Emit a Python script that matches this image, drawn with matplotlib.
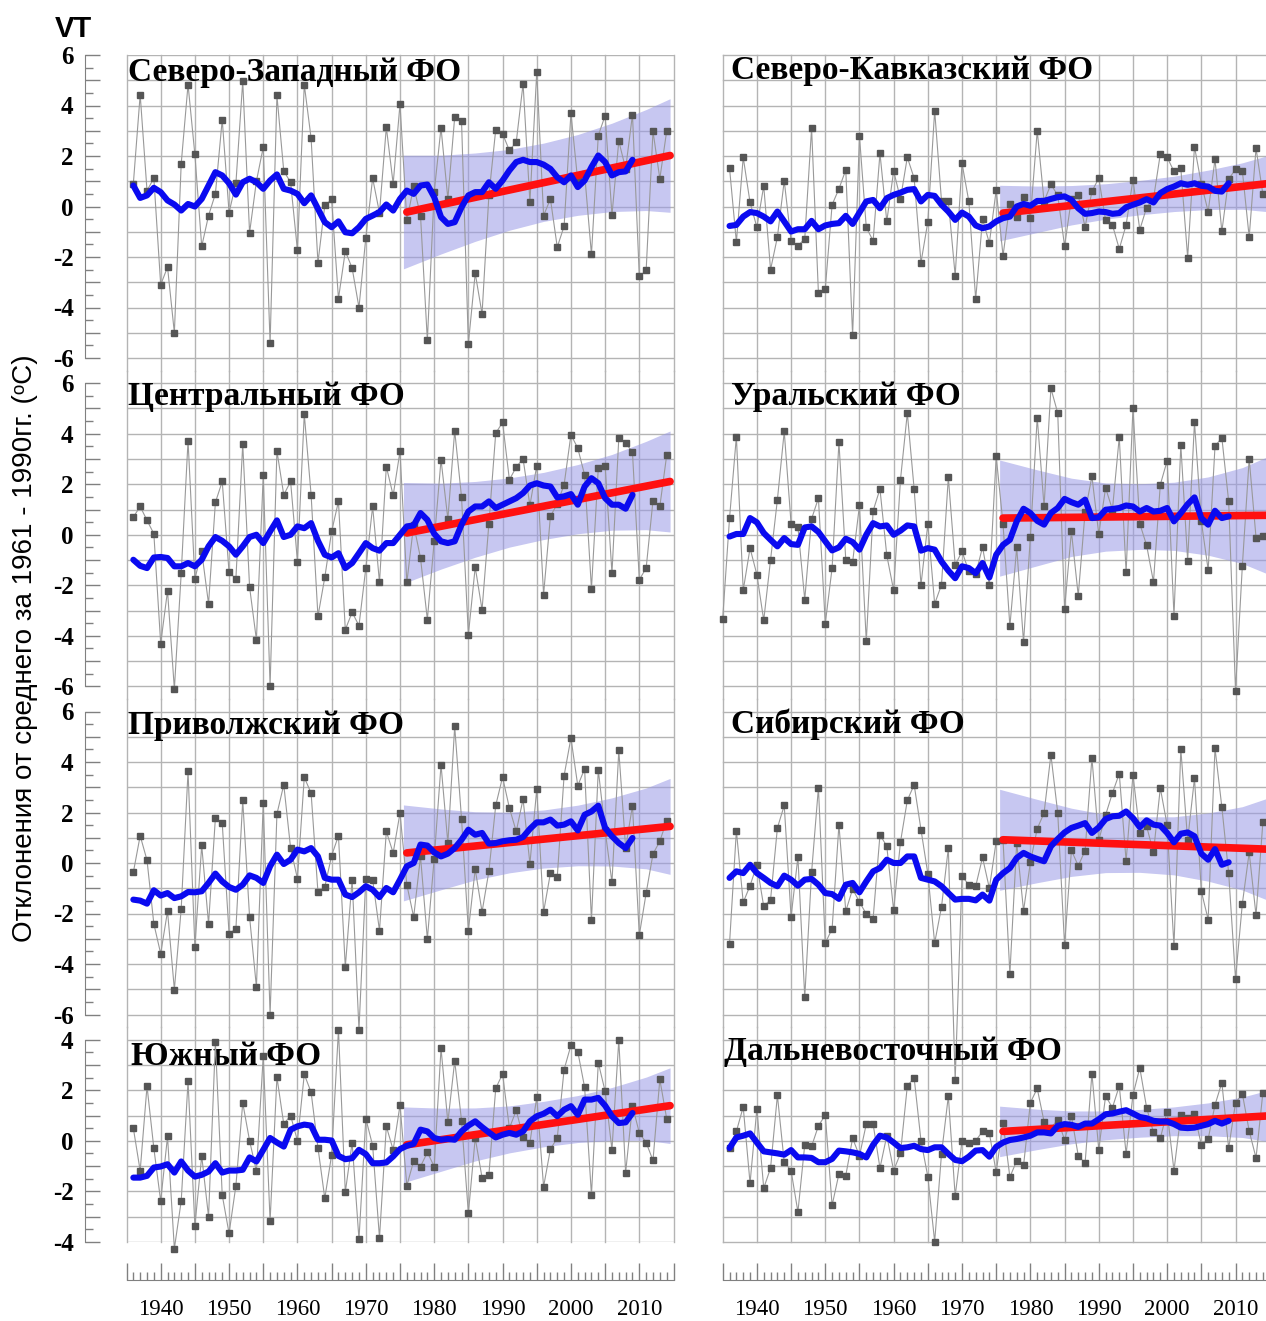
import matplotlib.pyplot as plt
import numpy as np
from matplotlib.ticker import FixedLocator, FuncFormatter

plt.rcParams['axes.unicode_minus'] = False
plt.rcParams['font.family'] = 'Liberation Serif'

# ---- data -----------------------------------------------------------------
years = np.arange(1936, 2015)
ural_years = np.arange(1935, 2015)
smooth_years = np.arange(1936, 2010)
trend_years = [1976, 2014.5]
band_years = [1975.5, 1981, 1986, 1991, 1996, 2001, 2006, 2011, 2014.5]

# Северо-Западный
nw_vals = [0.9, 4.43, 0.63, 1.12, -3.1, -2.4, -5.0, 1.69, 4.83, 2.06,
           -1.58, -0.36, 0.5, 3.44, -0.24, 0.92, 4.96, -1.04, 1.0, 2.35,
           -5.4, 4.4, 1.4, 0.96, -1.74, 4.83, 2.7, -2.23, 0.04, 0.28,
           -3.65, -1.77, -2.44, -4.0, -1.24, 1.12, -0.25, 3.14, 0.9, 4.06,
           -0.55, 0.8, -0.36, -5.3, 0.57, 3.12, 0.3, 3.54, 3.38, -5.44,
           -2.64, -4.25, 0.44, 3.04, 2.88, 2.22, 2.55, 4.86, 0.17, 5.32,
           -0.36, 0.3, -1.61, -0.78, 3.7, 1.0, 1.3, -1.9, 2.81, 3.6,
           -0.33, 2.59, 1.5, 3.64, -2.77, -2.53, 2.98, 1.1, 2.98]
nw_smooth = [0.83, 0.34, 0.44, 0.74, 0.57, 0.24, 0.08, -0.16, 0.1, 0.0,
             0.3, 0.83, 1.36, 1.23, 0.92, 0.47, 0.96, 1.1, 0.96, 0.7,
             1.03, 1.27, 0.7, 0.63, 0.5, 0.13, 0.44, -0.09, -0.62, -0.82,
             -0.59, -1.02, -1.06, -0.82, -0.49, -0.36, -0.22, 0.08, -0.16, 0.3,
             0.63, 0.5, 0.83, 0.87, 0.37, -0.42, -0.69, -0.62, -0.03, 0.44,
             0.57, 0.57, 0.96, 0.7, 1.03, 1.43, 1.76, 1.85, 1.76, 1.76,
             1.66, 1.49, 1.16, 0.96, 1.23, 0.77, 1.03, 1.56, 2.02, 1.76,
             1.23, 1.36, 1.39, 1.85]
nw_trend = [-0.22, 2.02]
nw_hi = [2.03, 2.03, 2.12, 2.26, 2.51, 2.85, 3.3, 3.84, 4.27]
nw_lo = [-2.47, -1.88, -1.38, -0.94, -0.59, -0.35, -0.2, -0.16, -0.23]

# Северо-Кавказский
nk_vals = [1.52, -1.41, 1.95, 0.16, -0.82, 0.82, -2.5, -1.21, 1.02, -1.36,
           -1.56, -1.28, 3.1, -3.43, -3.27, 0.07, 0.7, 1.45, -5.1, 2.8,
           -0.83, -1.36, 2.11, -0.59, 1.41, 0.3, 1.95, 1.12, -2.22, -0.61,
           3.8, 0.22, 0.22, -2.74, 1.71, 0.2, -3.67, -0.5, -1.45, 0.66,
           -1.95, 0.1, -0.4, 0.37, -0.44, 3.0, 0.2, 0.88, 0.44, -1.56,
           0.3, 0.44, -0.82, 0.6, 1.12, -0.54, -0.73, -1.68, -0.73, 1.06,
           -0.92, -0.04, 0.3, 2.08, 1.95, 1.39, 1.52, -2.02, 2.37, 0.9,
           -0.2, 1.87, -0.99, 1.08, 1.48, 1.41, -1.21, 2.31, 0.49]
nk_smooth = [-0.77, -0.73, -0.4, -0.22, -0.26, -0.4, -0.59, -0.2, -0.59, -0.99,
             -0.9, -0.9, -0.57, -0.9, -0.75, -0.69, -0.66, -0.37, -0.69, -0.24,
             0.2, 0.26, -0.07, 0.33, 0.46, 0.55, 0.66, 0.69, 0.2, 0.46,
             0.42, 0.07, -0.2, -0.53, -0.24, -0.4, -0.75, -0.86, -0.79, -0.59,
             -0.46, -0.4, 0.0, 0.1, 0.03, 0.22, 0.22, 0.3, 0.37, 0.4,
             0.26, -0.07, -0.29, -0.26, -0.2, -0.22, -0.29, -0.26, -0.03, 0.07,
             0.16, 0.29, 0.16, 0.53, 0.69, 0.79, 0.92, 0.86, 0.92, 0.82,
             0.79, 0.62, 0.59, 0.92]
nk_trend = [-0.26, 0.9]
nk_hi = [0.84, 0.81, 0.83, 0.9, 1.03, 1.2, 1.44, 1.73, 2.0]
nk_lo = [-1.36, -1.03, -0.73, -0.5, -0.33, -0.2, -0.12, -0.11, -0.2]

# Центральный
c_vals = [0.7, 1.12, 0.57, 0.04, -4.31, -2.22, -6.11, -1.53, 3.73, -1.75,
          -0.66, -2.74, 1.28, 2.11, -1.49, -1.74, 3.59, -2.07, -4.16, 2.35,
          -5.98, 3.32, 1.58, 2.11, -1.06, 4.78, 1.58, -3.23, -1.69, 0.13,
          1.32, -3.76, -3.07, -3.6, -1.32, 1.12, -1.89, 2.7, 1.56, 3.3,
          -1.89, 0.4, -0.92, -3.36, -0.26, 2.97, 0.62, 4.12, 1.49, -3.96,
          -1.28, -2.97, 0.44, 4.02, 4.45, 2.18, 2.68, 3.01, 1.16, 2.74,
          -2.37, 0.73, 1.23, 1.98, 3.96, 3.43, 2.37, -2.14, 2.64, 2.74,
          -1.52, 3.83, 3.65, 3.26, -1.78, -1.32, 1.35, 1.12, 3.14]
c_smooth = [-0.99, -1.23, -1.32, -0.9, -0.88, -0.92, -1.25, -1.25, -1.12, -1.25,
            -0.99, -0.46, -0.09, -0.24, -0.46, -0.79, -0.46, -0.09, 0.0, -0.33,
            0.13, 0.57, -0.09, 0.0, 0.33, 0.26, 0.46, -0.24, -0.79, -0.9,
            -0.73, -1.32, -1.12, -0.73, -0.33, -0.53, -0.63, -0.33, -0.33, 0.0,
            0.33, 0.37, 0.86, 0.59, 0.04, -0.26, -0.33, -0.26, 0.4, 0.92,
            1.12, 1.12, 1.32, 1.06, 1.19, 1.32, 1.45, 1.65, 1.95, 2.04,
            1.95, 1.91, 1.48, 1.52, 1.61, 1.19, 1.91, 2.24, 2.04, 1.45,
            1.19, 1.19, 1.03, 1.58]
c_trend = [0.07, 2.11]
c_hi = [2.07, 2.04, 2.11, 2.25, 2.47, 2.78, 3.18, 3.7, 4.11]
c_lo = [-1.93, -1.36, -0.89, -0.49, -0.19, 0.04, 0.18, 0.2, 0.11]

# Уральский (ряд начинается с 1935 г.)
u_vals = [-3.32, 0.66, 3.89, -2.2, -0.53, -1.58, -3.39, -0.99, 1.39, 4.09,
          0.44, 0.3, -2.57, 0.63, 1.45, -3.52, -1.32, 3.67, -0.99, -1.08,
          1.16, -4.22, 0.95, 1.81, -0.82, -2.2, 2.18, 4.82, 1.81, -1.98,
          0.42, -2.74, -1.98, 2.28, -1.2, -0.66, -1.45, -1.56, -0.49, -1.98,
          3.1, 0.42, -3.63, -0.5, -4.26, -0.07, 4.64, 1.12, 5.8, 4.82,
          -2.94, 0.13, -2.41, 0.9, 2.31, 0.03, 1.85, 1.0, 3.87, -1.49,
          5.01, 0.44, -0.42, -1.87, 1.98, 2.93, -3.2, 3.56, -1.02, 4.46,
          0.53, -1.39, 3.5, 3.85, 1.32, -6.17, -1.23, 3.01, -0.11, -0.04]
u_smooth = [-0.07, 0.03, 0.03, 0.66, 0.49, 0.07, -0.2, -0.46, -0.13, -0.37,
            -0.4, 0.29, 0.33, 0.11, -0.26, -0.62, -0.5, -0.16, -0.29, -0.59,
            0.0, 0.46, 0.33, 0.37, 0.0, 0.16, 0.37, 0.33, -0.63, -0.53,
            -0.59, -1.06, -1.42, -1.72, -1.25, -1.32, -1.52, -1.12, -1.69, -0.79,
            -0.4, -0.2, 0.53, 1.03, 0.86, 0.55, 0.4, 0.86, 1.06, 1.42,
            1.29, 1.19, 1.39, 0.66, 0.69, 0.99, 1.02, 1.06, 1.16, 1.12,
            0.92, 1.06, 0.92, 0.95, 1.06, 0.53, 0.86, 1.21, 1.48, 0.66,
            0.4, 0.95, 0.66, 0.73]
u_trend = [0.66, 0.77]
u_hi = [2.96, 2.57, 2.24, 2.05, 2.02, 2.08, 2.29, 2.66, 3.07]
u_lo = [-1.64, -1.23, -0.86, -0.65, -0.58, -0.62, -0.81, -1.14, -1.53]

# Приволжский
p_vals = [-0.37, 1.08, 0.11, -2.41, -3.59, -1.91, -5.01, -1.81, 3.63, -3.32,
          0.7, -2.41, 1.78, 1.58, -2.8, -2.61, 2.48, -2.14, -4.91, 2.37,
          -6.0, 1.94, 3.1, 0.59, -0.62, 3.39, 2.77, -1.16, -0.95, 0.29,
          1.08, -4.12, -0.66, -6.6, -0.62, -0.66, -2.68, 1.25, 0.4, 1.98,
          -0.86, -2.14, 0.26, -3.01, 0.17, 3.89, 0.79, 5.41, 1.75, -2.68,
          -0.24, -1.94, -0.33, 2.28, 3.4, 2.18, 1.25, 2.53, -0.03, 2.93,
          -1.94, -0.4, -0.55, 3.46, 4.95, 3.06, 3.73, -2.27, 3.69, 1.3,
          -0.77, 4.46, 0.6, 2.27, -2.86, -1.19, 0.36, 0.86, 1.68]
p_smooth = [-1.45, -1.49, -1.61, -1.08, -1.29, -1.19, -1.39, -1.32, -1.15, -1.16,
            -1.12, -0.79, -0.42, -0.73, -0.95, -1.06, -0.86, -0.49, -0.59, -0.79,
            -0.13, 0.33, -0.04, 0.13, 0.53, 0.46, 0.59, 0.26, -0.59, -0.66,
            -0.66, -1.25, -1.35, -1.16, -0.92, -1.06, -1.35, -0.99, -1.16, -0.66,
            -0.13, 0.0, 0.73, 0.69, 0.42, 0.26, 0.37, 0.59, 0.92, 1.32,
            1.12, 1.19, 0.77, 0.79, 0.86, 0.9, 0.92, 1.03, 1.35, 1.61,
            1.61, 1.72, 1.48, 1.52, 1.65, 1.29, 1.91, 2.04, 2.27, 1.39,
            1.06, 0.79, 0.59, 0.99]
p_trend = [0.4, 1.45]
p_hi = [2.3, 2.14, 2.03, 2.01, 2.1, 2.29, 2.58, 2.97, 3.35]
p_lo = [-1.5, -1.06, -0.67, -0.39, -0.2, -0.11, -0.12, -0.23, -0.45]

# Сибирский
s_vals = [-3.19, 1.28, -1.56, -0.9, -0.07, -1.72, -1.45, 1.39, 2.28, -2.14,
          0.24, -5.32, -0.37, 2.99, -3.17, -2.61, 1.52, -1.91, -1.03, -1.54,
          -2.02, -2.2, 1.12, 0.66, -1.87, 0.83, 2.48, 3.1, 1.32, -0.42,
          -3.17, -1.74, 0.59, -8.6, -0.53, -0.86, -0.92, 0.22, -1.0, 0.86,
          0.9, -4.39, 0.8, -1.89, 0.03, 1.36, 1.98, 4.29, 1.98, -3.26,
          0.5, -0.11, 0.49, 4.16, 0.9, 1.9, 2.77, 3.54, 0.07, 3.5,
          1.19, 1.45, 0.42, 2.97, 1.5, -3.3, 4.51, 0.9, 3.36, -1.12,
          -2.24, 4.55, 2.22, -0.4, -4.59, -1.61, 0.42, -2.07, 1.61]
s_smooth = [-0.59, -0.33, -0.4, -0.07, -0.4, -0.59, -0.79, -0.92, -0.5, -0.66,
            -0.9, -0.66, -0.63, -0.86, -1.19, -1.23, -1.42, -0.86, -0.79, -1.16,
            -0.73, -0.33, -0.2, 0.13, 0.0, 0.0, 0.26, 0.26, -0.59, -0.66,
            -0.73, -0.92, -1.19, -1.45, -1.42, -1.42, -1.48, -1.25, -1.49, -0.66,
            -0.4, -0.2, 0.2, 0.4, 0.26, 0.16, 0.07, 0.66, 0.95, 1.21,
            1.39, 1.48, 1.58, 1.19, 1.41, 1.74, 1.85, 1.87, 2.04, 1.78,
            1.42, 1.69, 1.52, 1.48, 1.19, 0.82, 1.16, 1.21, 1.06, 0.37,
            0.13, 0.55, -0.07, 0.03]
s_trend = [0.92, 0.55]
s_hi = [2.92, 2.52, 2.17, 1.92, 1.83, 1.83, 1.98, 2.23, 2.55]
s_lo = [-1.08, -0.78, -0.53, -0.38, -0.37, -0.47, -0.72, -1.07, -1.45]

# Южный
y_vals = [0.5, -1.19, 2.16, -0.3, -2.39, 0.17, -4.27, -2.39, 2.36, -3.37,
          -0.6, -3.01, 3.91, -2.15, -3.67, -1.78, 1.5, 0.0, -1.2, 3.36,
          -3.18, 2.52, 0.66, 1.0, 0.0, 2.63, 1.92, -0.27, -2.28, -0.56,
          4.39, -2.04, -0.07, -3.91, 0.88, -0.19, -3.85, 0.57, -0.36, 1.41,
          -1.78, -0.8, -1.02, -0.46, -1.02, 3.66, 0.73, 3.16, 0.8, -2.88,
          0.11, -1.46, -1.35, 2.07, 2.65, 0.5, 1.2, 0.15, -0.07, 1.72,
          -1.82, -0.33, 0.11, 2.82, 3.78, 3.53, 2.12, -2.15, 3.09, 1.96,
          -0.36, 3.99, -1.26, 1.39, 0.31, -0.07, -0.78, 2.43, 0.88]
y_smooth = [-1.46, -1.46, -1.39, -1.06, -1.02, -0.93, -1.26, -0.82, -1.18, -1.42,
            -1.35, -1.22, -0.89, -1.26, -1.18, -1.18, -1.15, -0.66, -0.82, -0.36,
            0.11, -0.07, -0.23, 0.44, 0.57, 0.64, 0.6, 0.04, 0.04, 0.01,
            -0.6, -0.73, -0.69, -0.36, -0.53, -0.89, -0.89, -0.86, -0.62, -0.33,
            -0.2, -0.12, 0.44, 0.37, 0.11, 0.04, 0.07, 0.04, 0.37, 0.6,
            0.77, 0.54, 0.33, 0.13, 0.24, 0.31, 0.24, 0.37, 0.77, 0.97,
            1.07, 1.23, 0.97, 1.23, 1.37, 1.03, 1.63, 1.63, 1.7, 1.39,
            0.97, 0.7, 0.73, 1.1]
y_trend = [-0.16, 1.39]
y_hi = [1.34, 1.29, 1.3, 1.38, 1.56, 1.79, 2.11, 2.52, 2.89]
y_lo = [-1.66, -1.21, -0.8, -0.48, -0.24, -0.07, 0.01, 0.02, -0.11]

# Дальневосточный
d_vals = [-0.29, 0.37, 1.34, -1.68, 1.27, -1.88, -1.08, 1.8, -0.85, -1.18,
          -2.82, -0.16, -0.22, 0.59, 1.02, -2.56, -1.31, -1.38, 0.1, -0.6,
          0.66, 0.66, -1.08, 0.2, -1.18, -0.5, 2.17, 2.49, 0.0, -1.42,
          -4.0, -0.52, 1.77, -2.19, 0.0, -0.07, 0.0, 0.37, 0.3, -1.25,
          0.72, -1.44, -0.79, -0.98, 1.51, 2.07, 0.76, 0.5, 0.83, 0.04,
          0.98, -0.59, -0.89, 2.66, -0.35, 1.77, 1.31, 2.17, -0.52, 1.81,
          2.89, 1.31, 0.33, 0.1, 1.15, -1.18, 1.02, 0.9, 1.05, -0.16,
          0.07, 1.42, 2.3, -0.29, 1.5, 1.86, 0.39, -0.68, 1.9]
d_smooth = [-0.29, 0.13, 0.2, 0.29, -0.07, -0.42, -0.46, -0.5, -0.55, -0.37,
            -0.66, -0.66, -0.68, -0.85, -0.85, -0.72, -0.39, -0.42, -0.46, -0.52,
            -0.66, -0.16, 0.2, 0.13, -0.07, -0.29, -0.26, -0.2, -0.33, -0.37,
            -0.26, -0.26, -0.52, -0.76, -0.81, -0.63, -0.39, -0.37, -0.63, -0.24,
            -0.07, 0.03, 0.07, 0.13, 0.2, 0.33, 0.33, 0.29, 0.59, 0.66,
            0.63, 0.55, 0.68, 0.68, 0.85, 1.05, 1.08, 1.15, 1.21, 1.08,
            0.94, 0.89, 0.79, 0.76, 0.76, 0.66, 0.52, 0.5, 0.52, 0.59,
            0.66, 0.79, 0.68, 0.79]
d_trend = [0.37, 0.98]
d_hi = [1.37, 1.25, 1.18, 1.18, 1.24, 1.34, 1.5, 1.73, 1.98]
d_lo = [-0.63, -0.35, -0.12, 0.04, 0.14, 0.2, 0.2, 0.13, -0.02]

titles = ['Северо-Западный ФО', 'Северо-Кавказский ФО',
          'Центральный ФО', 'Уральский ФО',
          'Приволжский ФО', 'Сибирский ФО',
          'Южный ФО', 'Дальневосточный ФО']
title_pos = [(1935.25, 4.97), (1936.2, 5.05),
             (1935.25, 5.12), (1936.2, 5.12),
             (1935.25, 5.12), (1936.2, 5.15),
             (1935.7, 3.0), (1935.2, 3.2)]
series = [(years, nw_vals, nw_smooth, nw_trend, nw_lo, nw_hi),
          (years, nk_vals, nk_smooth, nk_trend, nk_lo, nk_hi),
          (years, c_vals, c_smooth, c_trend, c_lo, c_hi),
          (ural_years, u_vals, u_smooth, u_trend, u_lo, u_hi),
          (years, p_vals, p_smooth, p_trend, p_lo, p_hi),
          (years, s_vals, s_smooth, s_trend, s_lo, s_hi),
          (years, y_vals, y_smooth, y_trend, y_lo, y_hi),
          (years, d_vals, d_smooth, d_trend, d_lo, d_hi)]

# ---- layout ---------------------------------------------------------------
W, H = 1266, 1321
fig = plt.figure(figsize=(W / 100, H / 100), dpi=100)

UNIT = 25.25                      # px per degree
COL_X = [126.5, 722.7]
COL_W = 547
ROW_LIM = [(-6.5, 6.0), (-6.5, 6.5), (-6.5, 6.5), (-4.0, 4.5)]
ROW_RULER = [(-6, 6), (-6, 6), (-6, 6), (-4, 4)]
GRID = '#b4b4b4'
AXC = '#808080'


def px_axes(left, top, width, height):
    return fig.add_axes([left / W, 1 - (top + height) / H, width / W, height / H])


def even_label(v, pos):
    return '%d' % v if int(round(v)) % 2 == 0 else ''


def decade_label(v, pos):
    return '%d' % v if int(v) % 10 == 0 and 1940 <= v <= 2010 else ''


def panel(ax, title, tpos, yrs, vals, smooth, trend, lo, hi, ylim):
    ax.patch.set_visible(False)
    ax.set_xlim(1935, 2015)
    ax.set_ylim(*ylim)
    ax.fill_between(band_years, lo, hi, color=(0.6, 0.6, 0.9), alpha=0.55, lw=0, zorder=1)
    ax.text(tpos[0], tpos[1], title, fontweight='bold', fontsize=24, zorder=2)
    ax.plot(yrs, vals, color='#999999', lw=0.8, marker='s', ms=3.8, mfc='#555555',
            mec='#555555', zorder=3, clip_on=False)
    ax.plot(trend_years, trend, color='#ff1010', lw=5.5, solid_capstyle='round', zorder=4)
    ax.plot(smooth_years, smooth, color='#0a0af0', lw=4.4, solid_joinstyle='round',
            solid_capstyle='round', zorder=5)
    ax.set_xticks(range(1935, 2016, 5))
    ax.set_yticks(range(int(np.ceil(ylim[0])), int(np.floor(ylim[1])) + 1))
    ax.grid(True, color=GRID, lw=1, zorder=0)
    ax.set_axisbelow(True)
    for gl in ax.get_xgridlines() + ax.get_ygridlines():
        gl.set_clip_on(False)
    for s in ['top', 'right', 'bottom']:
        ax.spines[s].set_visible(False)
    ax.tick_params(axis='x', length=0, labelbottom=False)


ruler_axes = []
top = 55 - (6.0 - ROW_LIM[0][1]) * UNIT
for row in range(4):
    ylim = ROW_LIM[row]
    height = (ylim[1] - ylim[0]) * UNIT
    for col in range(2):
        i = 2 * row + col
        ax = px_axes(COL_X[col], top, COL_W, height)
        panel(ax, titles[i], title_pos[i], *series[i], ylim)
        if col == 0:
            # degree ruler on the left of the grid
            lo_t, hi_t = ROW_RULER[row]
            ax.spines['left'].set_position(('outward', 30))
            ax.spines['left'].set_bounds(lo_t, hi_t)
            ax.spines['left'].set_color(AXC)
            ax.yaxis.set_minor_locator(FixedLocator(np.arange(lo_t + 0.5, hi_t, 1.0)))
            ax.yaxis.set_major_formatter(FuncFormatter(even_label))
            ax.tick_params(axis='y', which='major', direction='in', length=11, width=1,
                           color=AXC, pad=8, labelsize=18)
            ax.tick_params(axis='y', which='minor', direction='in', length=5.5, width=1,
                           color=AXC)
            ruler_axes.append(ax)
        else:
            ax.spines['left'].set_visible(False)
            ax.tick_params(axis='y', length=0, labelleft=False)
    top += height

# year rulers under each column
for col in range(2):
    rax = px_axes(COL_X[col], 1262, COL_W, 18)
    rax.patch.set_visible(False)
    rax.set_xlim(1935, 2015)
    rax.set_yticks([])
    for s in ['top', 'right', 'left']:
        rax.spines[s].set_visible(False)
    rax.spines['bottom'].set_color(AXC)
    rax.xaxis.set_major_locator(FixedLocator(range(1935, 2016, 5)))
    rax.xaxis.set_minor_locator(FixedLocator(range(1935, 2016)))
    rax.xaxis.set_major_formatter(FuncFormatter(decade_label))
    rax.tick_params(axis='x', which='major', direction='in', length=12.5, width=1,
                    color=AXC, pad=14, labelsize=16.5)
    rax.tick_params(axis='x', which='minor', direction='in', length=6, width=1, color=AXC)

fig.text(55 / W, 1 - 37 / H, 'VT', fontfamily='Liberation Sans', fontweight='bold',
         fontsize=21, va='baseline')
fig.text(25 / W, 1 - 648 / H, 'Отклонения от среднего за 1961 - 1990гг. (ᵒC)',
         rotation=90, ha='center', va='center', fontsize=20,
         fontfamily=['Liberation Sans', 'DejaVu Sans'])

# the degree labels are bold; set it once the ticks exist
fig.canvas.draw()
for ax in ruler_axes:
    for t in ax.get_yticklabels():
        t.set_fontweight('bold')

fig.savefig('out.png', dpi=100)
